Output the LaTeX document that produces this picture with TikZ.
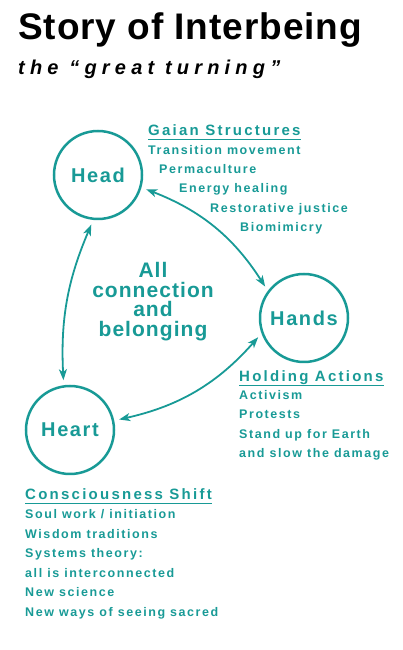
\documentclass[tikz,border=0pt]{standalone}
\usepackage{fontspec}
\setmainfont{Liberation Sans}
\newfontfamily\titlefont[LetterSpace=2.5]{Liberation Sans}
\newfontfamily\subfont[LetterSpace=26]{Liberation Sans}
\newfontfamily\headfont[LetterSpace=15]{Liberation Sans}
\newfontfamily\itemfont[LetterSpace=12.5]{Liberation Sans}
\newfontfamily\circfont[LetterSpace=8]{Liberation Sans}
\newfontfamily\corefont[LetterSpace=5]{Liberation Sans}
\usepackage{tikz}
\usetikzlibrary{arrows.meta}
\definecolor{gaia}{RGB}{24,154,150}

\begin{document}
\begin{tikzpicture}[
  x=1pt, y=1pt,
  title/.style = {anchor=base west, inner sep=0pt,
                  font=\titlefont\bfseries\fontsize{37}{37}\selectfont},
  subtitle/.style={anchor=base west, inner sep=0pt,
                  font=\subfont\bfseries\itshape\fontsize{20}{20}\selectfont},
  circ/.style  = {circle, draw=gaia, line width=2.5pt, minimum size=88pt,
                  inner sep=0pt, text=gaia,
                  font=\circfont\bfseries\fontsize{20}{20}\selectfont},
  hdr/.style   = {anchor=base west, inner sep=0pt, text=gaia,
                  font=\headfont\bfseries\fontsize{15}{15}\selectfont},
  item/.style  = {anchor=base west, inner sep=0pt, text=gaia,
                  font=\itemfont\bfseries\fontsize{12.5}{12.5}\selectfont},
  core/.style  = {anchor=base, inner sep=0pt, text=gaia,
                  font=\corefont\bfseries\fontsize{21}{21}\selectfont},
  uline/.style = {draw=gaia, line width=1pt},
  arr/.style   = {{Stealth[length=11pt,width=8pt,inset=3pt]}-{Stealth[length=11pt,width=8pt,inset=3pt]},
                  draw=gaia, line width=1.8pt, shorten <=5pt, shorten >=5pt}
]
\useasboundingbox (0,0) rectangle (402,650);

% ===================== TITLE =====================
\node[title] (ttl) at (18,610.5) {Story of Interbeing};
\node[subtitle] (sub) at (18,575) {the “great turning”};

% ===================== CIRCLES =====================
\node[circ] (head)  at (98,475)  {Head};
\node[circ] (hands) at (304,332) {Hands};
\node[circ] (heart) at (70,220)  {Heart};

% centre text
\node[core] (c1) at (153,372) {All};
\node[core] (c2) at (153,352) {connection};
\node[core] (c3) at (153,333) {and};
\node[core] (c4) at (153,313) {belonging};

% arrows between circles
\draw[arr] (head.-16)  to[bend left=18]  (hands.143);
\draw[arr] (head.-96)  to[bend right=13] (heart.98);
\draw[arr] (heart.12)  to[bend right=18] (hands.200);

% ===================== GAIAN STRUCTURES =====================
\node[hdr] (gaian) at (148,514) {Gaian Structures};
\draw[uline] ([yshift=-4pt]gaian.base west) -- ([yshift=-4pt]gaian.base east);
\node[item] (g1) at (148,495) {Transition movement};
\node[item] (g2) at (159,476) {Permaculture};
\node[item] (g3) at (179,457) {Energy healing};
\node[item] (g4) at (210,437) {Restorative justice};
\node[item] (g5) at (240,418) {Biomimicry};

% ===================== HOLDING ACTIONS =====================
\node[hdr] (hold) at (239,268) {Holding Actions};
\draw[uline] ([yshift=-4pt]hold.base west) -- ([yshift=-4pt]hold.base east);
\foreach \t [count=\i] in {Activism, Protests, Stand up for Earth,
                           and slow the damage}
  \node[item] (h\i) at (239,270-19.5*\i) {\t};

% ===================== CONSCIOUSNESS SHIFT =====================
\node[hdr] (shift) at (25,150) {Consciousness Shift};
\draw[uline] ([yshift=-4pt]shift.base west) -- ([yshift=-4pt]shift.base east);
\foreach \t [count=\i] in {Soul work / initiation, Wisdom traditions,
                           Systems theory:, all is interconnected,
                           New science, New ways of seeing sacred}
  \node[item] (s\i) at (25,150.5-19.5*\i) {\t};

\end{tikzpicture}
\end{document}
